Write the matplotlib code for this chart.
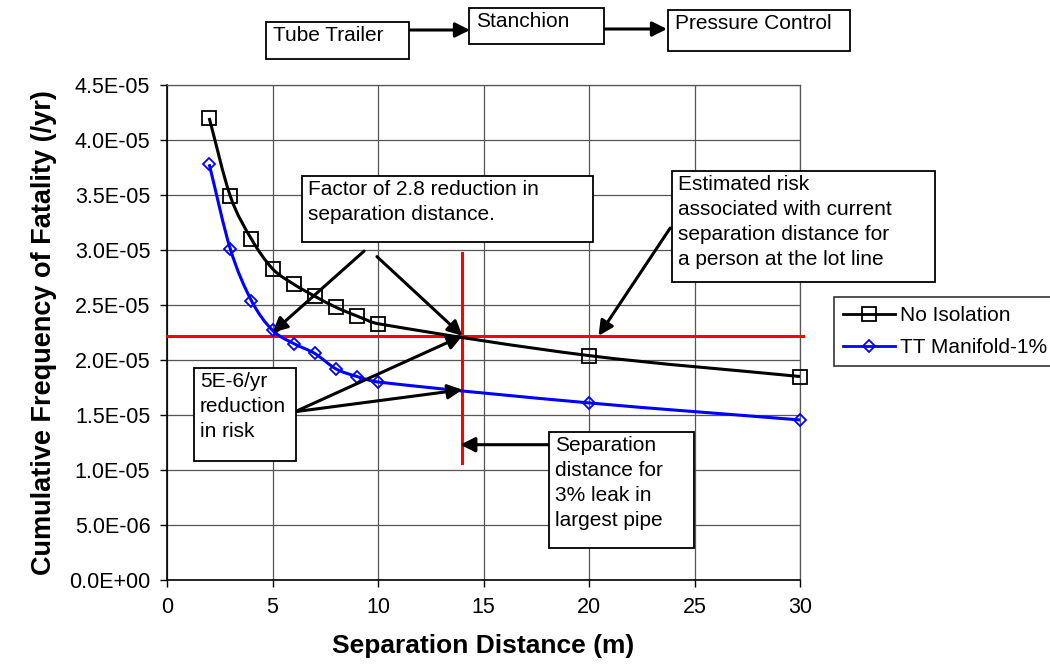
import numpy as np
import matplotlib
matplotlib.use("Agg")
from matplotlib import pyplot as plt
from matplotlib.path import Path
from matplotlib.patches import PathPatch, Rectangle, FancyArrowPatch
from matplotlib.lines import Line2D
from matplotlib.ticker import FuncFormatter, MultipleLocator

plt.rcParams['font.family'] = ['Liberation Sans', 'DejaVu Sans']

# separation distance (m)
distance = [2, 3, 4, 5, 6, 7, 8, 9, 10, 20, 30]
# cumulative frequency of fatality (/yr)
no_isolation = [4.20e-5, 3.49e-5, 3.10e-5, 2.83e-5, 2.69e-5, 2.58e-5,
                2.48e-5, 2.40e-5, 2.33e-5, 2.04e-5, 1.85e-5]
tt_manifold = [3.78e-5, 3.01e-5, 2.54e-5, 2.27e-5, 2.15e-5, 2.06e-5,
               1.92e-5, 1.85e-5, 1.80e-5, 1.61e-5, 1.455e-5]

current_risk = 2.22e-5      # risk at current separation distance
current_sep = 14.0          # separation distance for 3% leak
tt_at_current = 1.73e-5
sep_line_range = [1.06e-5, 2.97e-5]

flow_labels = ['Tube Trailer', 'Stanchion', 'Pressure Control']

W, H = 1050, 670
FS = 15


def fx(px):
    return px / W


def fy(py):
    return 1 - py / H


def smooth_path(x, y):
    # excel-like smoothed line: cubic bezier through the points
    x = np.asarray(x, float)
    y = np.asarray(y, float)
    m = np.empty(len(x))
    m[0] = (y[1] - y[0]) / (x[1] - x[0])
    m[-1] = (y[-1] - y[-2]) / (x[-1] - x[-2])
    m[1:-1] = (y[2:] - y[:-2]) / (x[2:] - x[:-2])
    verts = [(x[0], y[0])]
    codes = [Path.MOVETO]
    for i in range(len(x) - 1):
        dx = x[i + 1] - x[i]
        verts += [(x[i] + dx / 3, y[i] + m[i] * dx / 3),
                  (x[i + 1] - dx / 3, y[i + 1] - m[i + 1] * dx / 3),
                  (x[i + 1], y[i + 1])]
        codes += [Path.CURVE4] * 3
    return Path(verts, codes)


fig = plt.figure(figsize=(W / 100, H / 100), dpi=100)
ax = fig.add_axes([fx(167), fy(580), fx(800) - fx(167), fy(85) - fy(580)])

ax.set_xlim(0, 30)
ax.set_ylim(0, 4.5e-5)
ax.xaxis.set_major_locator(MultipleLocator(5))
ax.yaxis.set_major_locator(MultipleLocator(0.5e-5))
ax.yaxis.set_major_formatter(FuncFormatter(lambda v, p: f"{v:.1E}"))
ax.grid(True, color='#555555', lw=0.9)
ax.set_axisbelow(True)
for s in ['top', 'right']:
    ax.spines[s].set_color('#555555')
    ax.spines[s].set_linewidth(0.9)
for s in ['left', 'bottom']:
    ax.spines[s].set_linewidth(1.2)
ax.tick_params(direction='out', length=5, width=1, labelsize=15.5, pad=7)

ax.set_xlabel('Separation Distance (m)', fontsize=19, fontweight='bold', labelpad=12)
ax.set_ylabel('Cumulative Frequency of Fatality (/yr)', fontsize=19.5,
              fontweight='bold', labelpad=9)

# red reference lines
ax.axhline(current_risk, xmin=0, xmax=1.004, color='red', lw=2.2, clip_on=False, zorder=3)
ax.plot([current_sep, current_sep], sep_line_range, color='red', lw=2.2, zorder=3)

# series
ax.add_patch(PathPatch(smooth_path(distance, no_isolation), fc='none', ec='black', lw=2.2, zorder=4))
ax.add_patch(PathPatch(smooth_path(distance, tt_manifold), fc='none', ec='blue', lw=2.2, zorder=4))
ax.plot(distance, no_isolation, ls='none', marker='s', ms=10, mfc='none', mec='black', mew=1.3,
        zorder=5, clip_on=False)
ax.plot(distance, tt_manifold, ls='none', marker='D', ms=6.5, mfc='none', mec='blue', mew=1.3,
        zorder=5, clip_on=False)

handles = [Line2D([], [], color='black', lw=2, marker='s', ms=10, mfc='none', mec='black', mew=1.3),
           Line2D([], [], color='blue', lw=2, marker='D', ms=6.5, mfc='none', mec='blue', mew=1.3)]
leg = fig.legend(handles, ['No Isolation', 'TT Manifold-1%'], loc='upper left',
                 bbox_to_anchor=(fx(834), fy(297)), bbox_transform=fig.transFigure,
                 fontsize=FS, frameon=True, fancybox=False, handlelength=2.5,
                 handletextpad=0.2, borderpad=0.45, labelspacing=0.6, borderaxespad=0)
leg.get_frame().set_edgecolor('black')
leg.get_frame().set_linewidth(1.2)


def text_box(left, top, right, bottom, text, pad_x=6, pad_y=4):
    fig.patches.append(Rectangle((fx(left), fy(bottom)), fx(right) - fx(left), fy(top) - fy(bottom),
                                 transform=fig.transFigure, fc='white', ec='black', lw=1.3, zorder=6))
    fig.text(fx(left + pad_x), fy(top + pad_y), text, ha='left', va='top', fontsize=FS,
             linespacing=1.4, zorder=7)


text_box(302, 176, 593, 242, 'Factor of 2.8 reduction in\nseparation distance.')
text_box(672, 171, 935, 282, 'Estimated risk\nassociated with current\nseparation distance for\na person at the lot line')
text_box(194, 368, 296, 461, '5E-6/yr\nreduction\nin risk')
text_box(549, 432, 694, 548, 'Separation\ndistance for\n3% leak in\nlargest pipe')

# arrows from the text boxes
arrow = dict(arrowstyle='-|>', color='black', lw=2.2, mutation_scale=22, shrinkA=0, shrinkB=0)
ax.annotate('', xy=(5.0, 2.25e-5), xytext=(9.34, 2.99e-5), arrowprops=arrow, zorder=8)
ax.annotate('', xy=(current_sep, current_risk), xytext=(9.95, 2.94e-5), arrowprops=arrow, zorder=8)
ax.annotate('', xy=(current_sep, current_risk), xytext=(6.07, 1.53e-5), arrowprops=arrow, zorder=8)
ax.annotate('', xy=(current_sep, tt_at_current), xytext=(6.07, 1.53e-5), arrowprops=arrow, zorder=8)
ax.annotate('', xy=(20.45, current_risk), xytext=(23.85, 3.2e-5), arrowprops=arrow, zorder=8)
ax.annotate('', xy=(13.9, 1.23e-5), xytext=(18.1, 1.23e-5), arrowprops=arrow, zorder=8)

# flow diagram on top
flow_boxes = [(266, 22, 409, 59), (469, 8, 604, 44), (668, 10, 850, 51)]
for (l, t, r, b), lab in zip(flow_boxes, flow_labels):
    fig.patches.append(Rectangle((fx(l), fy(b)), fx(r) - fx(l), fy(t) - fy(b),
                                 transform=fig.transFigure, fc='white', ec='black', lw=1.3))
    fig.text(fx(l + 7), fy(t + 4), lab, ha='left', va='top', fontsize=FS)
for (x0, x1, yy) in [(409, 470, 30), (605, 667, 29)]:
    fig.add_artist(FancyArrowPatch((fx(x0), fy(yy)), (fx(x1), fy(yy)),
                   transform=fig.transFigure, arrowstyle='-|>', color='black', lw=2.2,
                   mutation_scale=22, shrinkA=0, shrinkB=0))

fig.savefig('out.png', dpi=100)
